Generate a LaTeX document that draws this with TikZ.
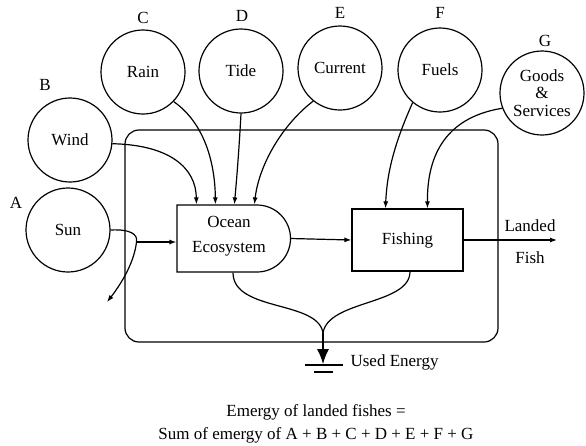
\documentclass[tikz,border=0pt]{standalone}
\usepackage{fontspec}
\setmainfont{Liberation Serif}
\usetikzlibrary{arrows.meta}
\begin{document}
\begin{tikzpicture}[x=1pt,y=-1pt,line width=1.2pt,
  src/.style={circle,draw,minimum size=84pt,inner sep=0pt,font=\fontsize{17}{18}\selectfont,align=center},
  lbl/.style={font=\fontsize{17}{18}\selectfont,inner sep=0pt},
  txt/.style={font=\fontsize{17}{23}\selectfont,align=center,inner sep=0pt},
  flow/.style={-{Latex[length=7pt,width=5pt]}},
  sink/.style={-{Latex[length=15pt,width=12pt]}}]
\useasboundingbox (0,0) rectangle (586,445);
% system frame
\draw[rounded corners=14pt] (125,130) rectangle (498,342);
% sources
\node[src] (sun) at (68,230) {Sun};
\node[src] (wind) at (70,140) {Wind};
\node[src] (rain) at (143,72) {Rain};
\node[src] (tide) at (241,71) {Tide};
\node[src] (current) at (340,68) {Current};
\node[src] (fuels) at (440,70) {Fuels};
\node[src,font=\fontsize{17}{17.5}\selectfont] (goods) at (542,93) {Goods\\\&\\Services};
% letters
\node[lbl] (la) at (16,203) {A};
\node[lbl] (lb) at (45,85) {B};
\node[lbl] (lc) at (143,18) {C};
\node[lbl] (ld) at (242,16) {D};
\node[lbl] (le) at (340,13) {E};
\node[lbl] (lf) at (440,13) {F};
\node[lbl] (lg) at (545,41) {G};
% ocean ecosystem (D shape)
\draw (177,205) -- (257,205) arc[start angle=-90,end angle=90,radius=33.5] -- (177,272) -- cycle;
\node[txt,minimum width=113pt,minimum height=67pt,font=\fontsize{17}{25}\selectfont] (ocean) at (233.5,238.5) {};
\node[txt,font=\fontsize{17}{25}\selectfont] (oceantxt) at (229,236) {Ocean\\Ecosystem};
% fishing
\node[draw,minimum width=111pt,minimum height=62pt,font=\fontsize{17}{18}\selectfont] (fishing) at (407.5,240) {Fishing};
% sun flow
\coordinate (split) at (136.5,242);
\coordinate (sunout) at (107,302);
\draw[flow] (sun.east) .. controls (130,229) and (138,234) .. (split) .. controls (134,265) and (118,288) .. (sunout);
\draw[flow] (split) -- (split -| ocean.west);
% inflows to ocean
\draw[flow] (wind.-5) .. controls (170,145) and (196,168) .. ([xshift=20pt]ocean.north west);
\draw[flow] (rain.-44) .. controls (203,122) and (215,160) .. ([xshift=39pt]ocean.north west);
\draw[flow] (tide.south) .. controls (239,150) and (237,175) .. ([xshift=58pt]ocean.north west);
\draw[flow] (current.-129) .. controls (282,125) and (259,165) .. ([xshift=78pt]ocean.north west);
% inflows to fishing
\draw[flow] (fuels.-130) .. controls (396,140) and (387,170) .. ([xshift=-22pt]fishing.north);
\draw[flow] (goods.-159) .. controls (442,118) and (427,160) .. ([xshift=20pt]fishing.north);
% ocean to fishing
\draw[flow] (ocean.east) -- (fishing.west);
% landed fish
\coordinate (fishout) at (557,240);
\draw[flow] (fishing.east) -- (fishout);
\node[lbl] (landed) at (530,226) {Landed};
\node[lbl] (fish) at (530,258) {Fish};
% drains
\coordinate (gnd) at (323,333);
\coordinate (gtip) at (323,364);
\draw ([xshift=-0.5pt]ocean.south) .. controls (233,312) and (318,300) .. (gnd);
\draw ([xshift=2.5pt]fishing.south) .. controls (410,305) and (328,300) .. (gnd);
\draw[sink] (gnd) -- (gtip);
\draw (305,365) -- (343,365);
\draw (314,372) -- (333,372);
\node[lbl,anchor=west] (used) at (350,362) {Used Energy};
% equation
\node[txt] (eq) at (316,424) {Emergy of landed fishes =\\Sum of emergy of A + B + C + D + E + F + G};
\end{tikzpicture}
\end{document}
